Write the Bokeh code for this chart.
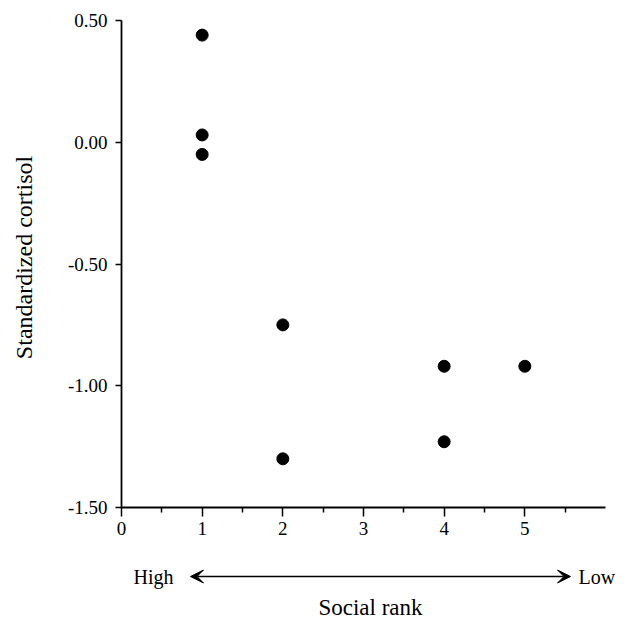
import math
from bokeh.plotting import figure
from bokeh.models import FixedTicker, PrintfTickFormatter, Arrow, VeeHead, Range1d
from bokeh.core.properties import value
from bokeh.embed import file_html
from bokeh.resources import INLINE

rank = [1, 1, 1, 2, 2, 4, 4, 5]
cortisol = [0.44, 0.03, -0.05, -0.75, -1.30, -0.92, -1.23, -0.92]
x_ticks = [0, 1, 2, 3, 4, 5]
x_minor = [0.5, 1.5, 2.5, 3.5, 4.5, 5.5]
y_ticks = [-1.5, -1.0, -0.5, 0.0, 0.5]
x_bounds = (0, 6)
y_bounds = (-1.5, 0.5)
x_title = "Social rank"
y_title = "Standardized cortisol"
rank_high = "High"
rank_low = "Low"

FONT = "Liberation Serif"
W, H = 629, 621
AX_LEFT, AX_RIGHT = 121, 605      # canvas px of x = 0 and x = 6
AX_TOP, AX_BOTTOM = 20, 507       # canvas px of y = 0.5 and y = -1.5
PPX = (AX_RIGHT - AX_LEFT) / (x_bounds[1] - x_bounds[0])
PPY = (AX_BOTTOM - AX_TOP) / (y_bounds[1] - y_bounds[0])


def dx(px):
    return x_bounds[0] + (px - AX_LEFT) / PPX


def dy(py):
    return y_bounds[0] - (py - AX_BOTTOM) / PPY


p = figure(width=W, height=H, output_backend="svg", toolbar_location=None,
           x_range=Range1d(dx(0), dx(W)), y_range=Range1d(dy(H), dy(0)),
           min_border_left=0, min_border_right=0, min_border_top=0, min_border_bottom=0)
p.outline_line_color = None
p.xgrid.visible = False
p.ygrid.visible = False

p.scatter(rank, cortisol, size=12, color="black")

for ax in (p.xaxis[0], p.yaxis[0]):
    ax.axis_line_color = "black"
    ax.axis_line_width = 1.8
    ax.major_tick_line_color = "black"
    ax.major_tick_line_width = 1.5
    ax.minor_tick_line_color = "black"
    ax.minor_tick_line_width = 1.5
    ax.major_label_text_font = FONT
    ax.major_label_text_font_size = "19px"
    ax.major_label_text_color = "black"

xa = p.xaxis[0]
xa.fixed_location = y_bounds[0]
xa.bounds = x_bounds
xa.ticker = FixedTicker(ticks=x_ticks, minor_ticks=x_minor)
xa.major_tick_out = 9
xa.major_tick_in = 0
xa.minor_tick_out = 5
xa.minor_tick_in = 0
xa.major_label_standoff = 5

ya = p.yaxis[0]
ya.fixed_location = x_bounds[0]
ya.bounds = y_bounds
ya.ticker = FixedTicker(ticks=y_ticks)
ya.formatter = PrintfTickFormatter(format="%.2f")
ya.major_tick_out = 6
ya.major_tick_in = 0
ya.minor_tick_out = 0
ya.minor_tick_in = 0
ya.major_label_standoff = 8

# axis titles
p.text(x=[dx(23)], y=[dy(257)], text=[y_title], angle=math.pi / 2,
       text_font=value(FONT), text_font_size="24px",
       text_baseline="middle", text_align="center", text_color="black")
p.text(x=[dx(370)], y=[dy(607)], text=[x_title], text_font=value(FONT), text_font_size="23px",
       text_baseline="middle", text_align="center", text_color="black")

# rank direction arrow below the axis
arrow_y = dy(576)
p.add_layout(Arrow(x_start=dx(190), y_start=arrow_y, x_end=dx(570), y_end=arrow_y,
                   line_color="black", line_width=1.5,
                   start=VeeHead(size=13, fill_color="black", line_color="black"),
                   end=VeeHead(size=13, fill_color="black", line_color="black")))
p.text(x=[dx(133)], y=[arrow_y], text=[rank_high], text_font=value(FONT), text_font_size="20px",
       text_baseline="middle", text_align="left", text_color="black")
p.text(x=[dx(578)], y=[arrow_y], text=[rank_low], text_font=value(FONT), text_font_size="20px",
       text_baseline="middle", text_align="left", text_color="black")

open("out.html", "w").write(file_html(p, INLINE))
